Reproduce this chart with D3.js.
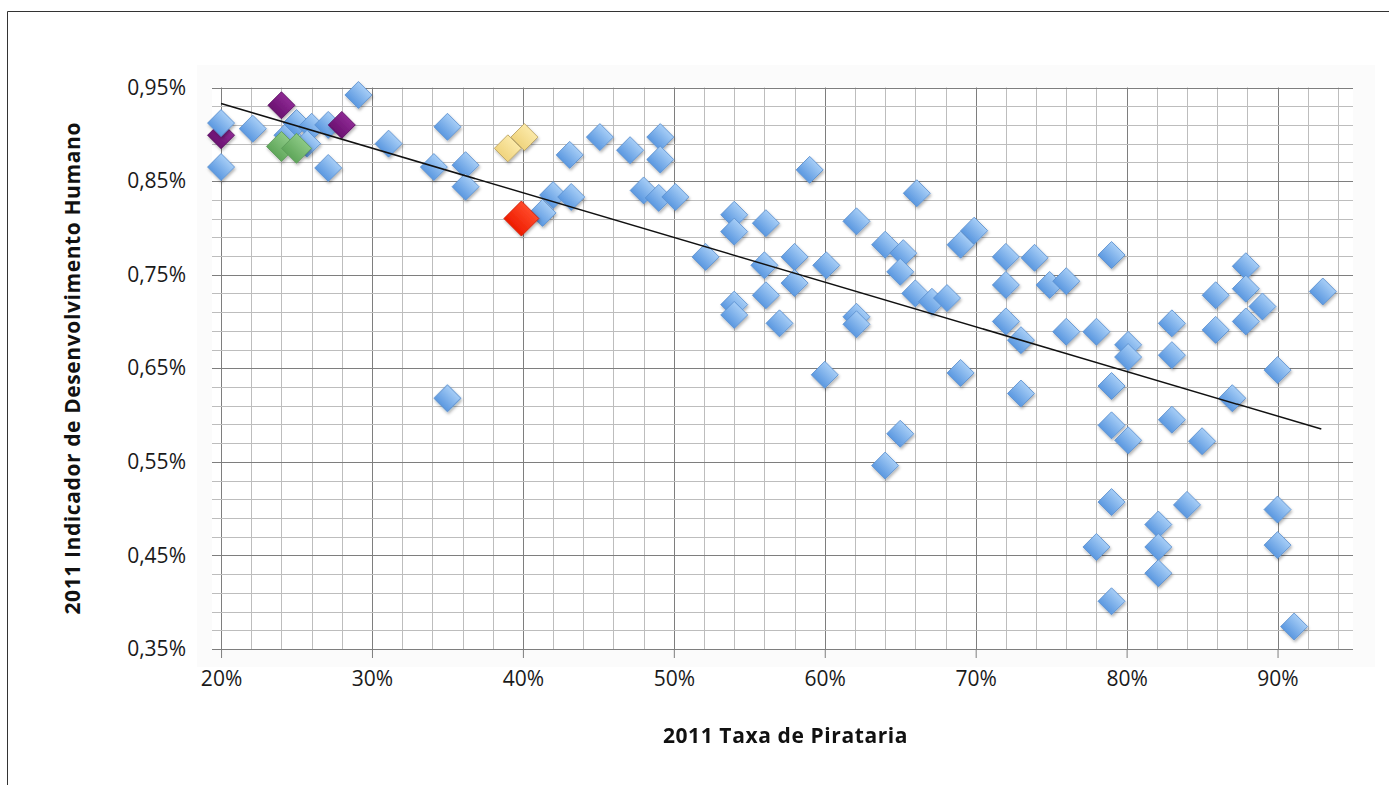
<!DOCTYPE html>
<html><head><meta charset="utf-8">
<script src="https://cdn.jsdelivr.net/npm/d3@7"></script>
<style>
html,body{margin:0;padding:0;background:#fff;}
svg{display:block;}
</style></head>
<body>
<svg id="chart" width="1389" height="785"></svg>
<script>
// ---- data ----
const xLabel = "2011 Taxa de Pirataria";
const yLabel = "2011 Indicador de Desenvolvimento Humano";
const xTicks = [20, 30, 40, 50, 60, 70, 80, 90];
const yTicks = [0.35, 0.45, 0.55, 0.65, 0.75, 0.85, 0.95];

// blue series: [piracy %, HDI %]
const blueX = [20.0,20.0,22.1,24.4,25.0,26.0,27.1,25.7,27.1,29.1,31.1,34.1,35.0,36.2,36.2,35.0,41.3,42.0,43.2,43.1,45.1,47.1,49.1,49.1,48.0,49.0,50.1,52.1,54.0,54.0,56.1,59.0,56.0,58.0,60.1,58.0,56.1,54.0,54.0,57.0,62.1,62.1,62.1,66.1,64.0,65.2,65.0,66.0,67.1,68.1,69.0,69.9,72.0,73.9,79.0,72.0,74.9,76.0,87.9,87.9,85.9,89.0,87.9,93.0,72.0,73.0,76.0,78.0,80.1,80.1,83.0,83.0,85.9,90.0,87.0,79.0,73.0,69.0,60.0,79.0,80.1,83.0,85.0,65.0,64.0,79.0,84.0,82.1,78.0,82.1,82.1,79.0,90.0,90.0,91.1];
const blueY = [0.912,0.865,0.906,0.899,0.912,0.908,0.910,0.890,0.864,0.942,0.890,0.865,0.908,0.867,0.844,0.618,0.816,0.835,0.833,0.878,0.897,0.883,0.897,0.873,0.840,0.832,0.833,0.769,0.814,0.796,0.805,0.862,0.760,0.769,0.760,0.741,0.728,0.718,0.707,0.698,0.807,0.705,0.697,0.837,0.782,0.773,0.753,0.730,0.721,0.725,0.782,0.797,0.769,0.768,0.771,0.739,0.739,0.743,0.759,0.735,0.728,0.716,0.700,0.732,0.700,0.680,0.689,0.689,0.675,0.662,0.698,0.664,0.691,0.648,0.618,0.631,0.623,0.645,0.643,0.589,0.573,0.595,0.572,0.580,0.546,0.507,0.504,0.483,0.459,0.459,0.431,0.401,0.499,0.461,0.374];

const purpleBackX = [20.0];
const purpleBackY = [0.899];
const purpleX = [24.0, 28.0];
const purpleY = [0.931, 0.910];
const greenX = [24.0, 25.0];
const greenY = [0.887, 0.885];
const yellowX = [39.0, 40.1];
const yellowY = [0.885, 0.897];
const redX = [39.9];
const redY = [0.810];

// linear trend line end points
const trendX = [20.0, 92.9];
const trendY = [0.933, 0.585];

// ---- layout ----
const svg = d3.select("#chart");
const L = 212, R = 1353, T = 87.5, B = 649;
const x = d3.scaleLinear().domain([19.4, 95]).range([L, R]);
const y = d3.scaleLinear().domain([0.35, 0.95]).range([B, T]);

const defs = svg.append("defs");
function grad(id, c1, c2) {
  const g = defs.append("linearGradient").attr("id", id).attr("x1", 0).attr("y1", 0).attr("x2", 0).attr("y2", 1);
  g.append("stop").attr("offset", "0%").attr("stop-color", c1);
  g.append("stop").attr("offset", "100%").attr("stop-color", c2);
}
grad("gBlue", "#a6cdf6", "#5b98e0");
grad("gPurple", "#8e2a94", "#6a1070");
grad("gGreen", "#8cc985", "#5fa65a");
grad("gYellow", "#fbe9a8", "#f0d47e");
grad("gRed", "#ff4a2a", "#ee1c00");
const f = defs.append("filter").attr("id", "shadow").attr("x", "-50%").attr("y", "-50%").attr("width", "200%").attr("height", "200%");
f.append("feDropShadow").attr("dx", 1).attr("dy", 2).attr("stdDeviation", 1.6).attr("flood-color", "#000").attr("flood-opacity", 0.3);

// frame
svg.append("path").attr("d", `M7.5,785 V11.5 H1389`).attr("fill", "none").attr("stroke", "#333").attr("stroke-width", 1);

// plot background
svg.append("rect").attr("x", 197).attr("y", 65).attr("width", 1178).attr("height", 602).attr("fill", "#fbfbfb");
svg.append("rect").attr("x", L).attr("y", T).attr("width", R - L).attr("height", B - T).attr("fill", "#fff");

// grid
const g = svg.append("g");
const minorX = d3.range(20, 95, 2);
const minorY = d3.range(0.35, 0.951, 0.02);
g.selectAll(".mx").data(minorX).enter().append("line")
  .attr("x1", d => Math.round(x(d)) + 0.5).attr("x2", d => Math.round(x(d)) + 0.5)
  .attr("y1", T).attr("y2", B).attr("stroke", d => (Math.round(d) % 10 === 0 ? "#7e7e7e" : "#bdbdbd")).attr("stroke-width", 1);
g.selectAll(".my").data(minorY).enter().append("line")
  .attr("y1", d => Math.round(y(d)) + 0.5).attr("y2", d => Math.round(y(d)) + 0.5)
  .attr("x1", L).attr("x2", R)
  .attr("stroke", d => (Math.abs(Math.round((d - 0.35) * 100) % 10) === 0 ? "#7e7e7e" : "#bdbdbd")).attr("stroke-width", 1);

// axes
const fmtY = d => d.toFixed(2).replace(".", ",") + "%";
const xAxis = d3.axisBottom(x).tickValues(xTicks).tickFormat(d => d + "%").tickSize(9).tickPadding(13);
const yAxis = d3.axisLeft(y).tickValues(yTicks).tickFormat(fmtY).tickSize(0).tickPadding(26);
const gx = svg.append("g").attr("transform", `translate(0,${B})`).call(xAxis);
const gy = svg.append("g").attr("transform", `translate(${L},0)`).call(yAxis);
[gx, gy].forEach(a => {
  a.select(".domain").remove();
  a.selectAll(".tick line").attr("stroke", "#7e7e7e");
  a.selectAll(".tick text").attr("fill", "#1a1a1a").style("font-family", "'Open Sans', sans-serif").style("font-size", "21px");
});

// points
const sym = d3.symbol().type(d3.symbolSquare);
function drawSeries(xs, ys, fill, stroke, half) {
  const data = xs.map((v, i) => [v, ys[i]]);
  svg.append("g").attr("filter", "url(#shadow)").selectAll("path").data(data).enter().append("path")
    .attr("d", sym.size(2 * half * half)())
    .attr("transform", d => `translate(${x(d[0])},${y(d[1])}) rotate(45)`)
    .attr("fill", fill).attr("stroke", stroke).attr("stroke-width", 0.8);
}
drawSeries(purpleBackX, purpleBackY, "url(#gPurple)", "#5a0a60", 13.5);
drawSeries(blueX, blueY, "url(#gBlue)", "#5a8fcf", 13.5);
drawSeries(purpleX, purpleY, "url(#gPurple)", "#5a0a60", 13.5);
drawSeries(greenX, greenY, "url(#gGreen)", "#5c9a58", 15);
drawSeries(yellowX, yellowY, "url(#gYellow)", "#b8a060", 13.5);
drawSeries(redX, redY, "url(#gRed)", "#d01800", 17.5);

// trend line
svg.append("line")
  .attr("x1", x(trendX[0])).attr("y1", y(trendY[0]))
  .attr("x2", x(trendX[1])).attr("y2", y(trendY[1]))
  .attr("stroke", "#111").attr("stroke-width", 1.5);

// axis titles
svg.append("text").attr("x", (L + R) / 2 + 3).attr("y", 743).attr("text-anchor", "middle")
  .style("font-family", "'Open Sans', sans-serif").style("font-weight", 700).style("font-size", "21px")
  .style("letter-spacing", "0.6px").attr("fill", "#111").text(xLabel);
svg.append("text").attr("transform", `translate(80,${(T + B) / 2}) rotate(-90)`).attr("text-anchor", "middle")
  .style("font-family", "'Open Sans', sans-serif").style("font-weight", 700).style("font-size", "21px")
  .style("letter-spacing", "0.6px").attr("fill", "#111").text(yLabel);
</script>
</body></html>
